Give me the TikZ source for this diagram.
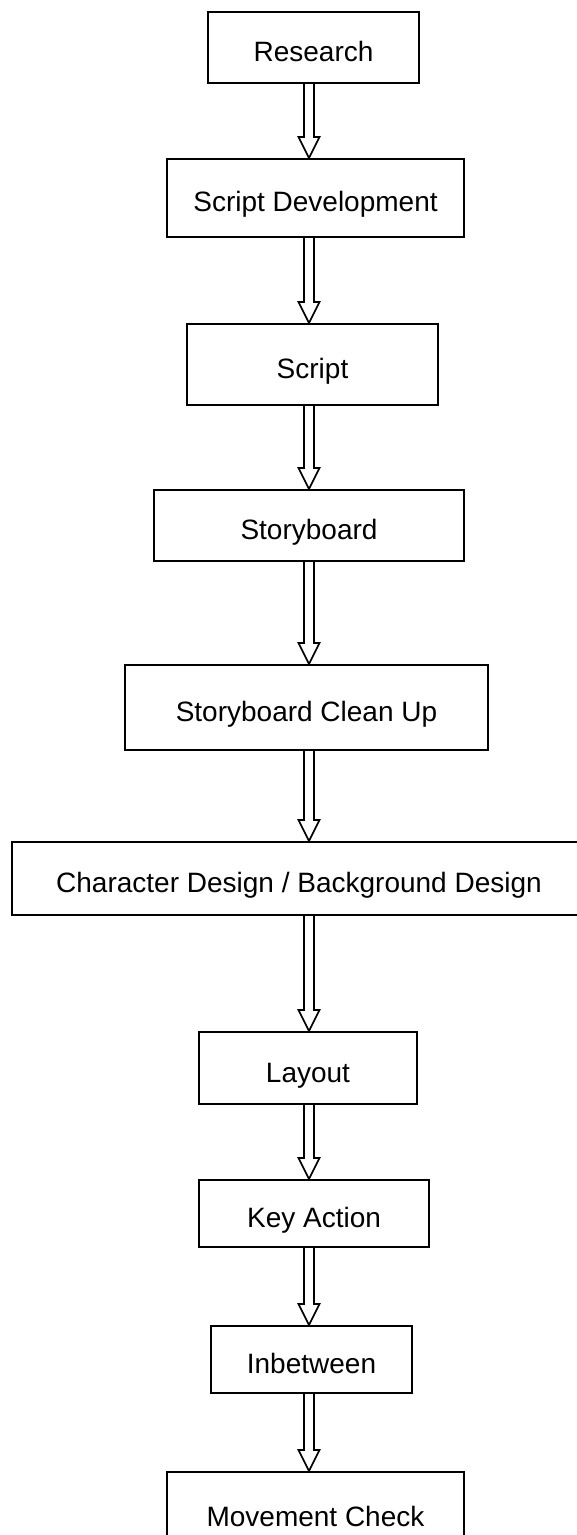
\documentclass[tikz,border=0pt]{standalone}
\usepackage{fontspec}
\setmainfont{Liberation Sans}
\usetikzlibrary{calc}
\tikzstyle{every node}=[font=\fontsize{14pt}{16pt}\selectfont]
\tikzstyle{flowbox}=[draw, line width=1pt, inner sep=0pt, text height=14pt, text depth=0pt]
\tikzstyle{blockarrow}=[line width=0.85pt, line join=miter]

\begin{document}
\begin{tikzpicture}[x=0.5pt,y=-0.5pt]
% Animation production steps
	\newcommand\shaftw{5} %half width of the arrow shaft
	\newcommand\headw{10.5} %half width of the arrow head
	\newcommand\headl{21} %length of the arrow head
	\useasboundingbox (0,0) rectangle (577,1535);
	\coordinate (AX) at (309,0); %AX = axis that all arrows follow
	%Boxes
	\node [flowbox, minimum width=105.5pt, minimum height=35.5pt] (RES) at (313.5,47.5) {Research}; %RES = research
	\node [flowbox, minimum width=148.5pt, minimum height=39pt] (SDEV) at (315.5,198) {Script Development}; %SDEV = script development
	\node [flowbox, minimum width=125.5pt, minimum height=40.5pt] (SCR) at (312.5,364.5) {Script}; %SCR = script
	\node [flowbox, minimum width=155pt, minimum height=35.5pt] (SB) at (309,525.5) {Storyboard}; %SB = storyboard
	\node [flowbox, minimum width=181.5pt, minimum height=42.5pt] (SBC) at (306.5,707.5) {Storyboard Clean Up}; %SBC = storyboard clean up
	\node [flowbox, minimum width=287pt, minimum height=36.5pt] (CBD) at (299,878.5) {Character Design / Background Design}; %CBD = character and background design
	\node [flowbox, minimum width=109pt, minimum height=36pt] (LAY) at (308,1068) {Layout}; %LAY = layout
	\node [flowbox, minimum width=115pt, minimum height=33.5pt] (KEY) at (314,1213.5) {Key Action}; %KEY = key action
	\node [flowbox, minimum width=100.5pt, minimum height=33.5pt] (INB) at (311.5,1359.5) {Inbetween}; %INB = inbetween
	\node [flowbox, minimum width=148.5pt, minimum height=40pt] (MOV) at (315.5,1512) {Movement Check}; %MOV = movement check
	%Arrows
	\newcommand\flowarrow[2]{\draw [blockarrow] ($(#1.south -| AX)+(-\shaftw,0)$) -- ($(#2.north -| AX)+(-\shaftw,-\headl)$) -- ++(\shaftw-\headw,0) -- (#2.north -| AX) -- ++(\headw,-\headl) -- ++(\shaftw-\headw,0) -- ($(#1.south -| AX)+(\shaftw,0)$);}
	\flowarrow{RES}{SDEV}
	\flowarrow{SDEV}{SCR}
	\flowarrow{SCR}{SB}
	\flowarrow{SB}{SBC}
	\flowarrow{SBC}{CBD}
	\flowarrow{CBD}{LAY}
	\flowarrow{LAY}{KEY}
	\flowarrow{KEY}{INB}
	\flowarrow{INB}{MOV}
\end{tikzpicture}
\end{document}
